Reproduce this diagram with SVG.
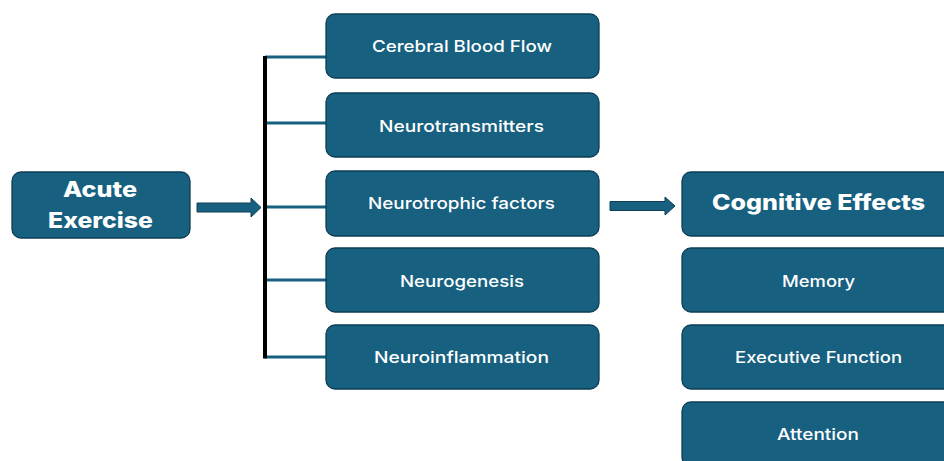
<svg xmlns="http://www.w3.org/2000/svg" width="944" height="461" viewBox="0 0 944 461">
<style>
.box{fill:#17607F;stroke:#0E3E55;stroke-width:1.3}
.t{fill:#fff;font-family:Inter,"Open Sans","Liberation Sans",sans-serif;font-weight:500;font-size:16.5px;text-anchor:middle}
.tb{fill:#fff;font-family:Inter,"Open Sans","Liberation Sans",sans-serif;font-weight:800;font-size:21px;text-anchor:middle}
.link{stroke:#17607F;stroke-width:3;fill:none}
.arrow{fill:#17607F;stroke:#0E3E55;stroke-width:1}
</style>
<rect width="944" height="461" fill="#fff"/>
<g id="connectors">
<line class="link" x1="265" y1="57" x2="327" y2="57"/>
<line class="link" x1="265" y1="123" x2="327" y2="123"/>
<line class="link" x1="265" y1="207" x2="327" y2="207"/>
<line class="link" x1="265" y1="280" x2="327" y2="280"/>
<line class="link" x1="265" y1="357" x2="327" y2="357"/>
<line x1="265" y1="56" x2="265" y2="358.5" stroke="#000" stroke-width="4"/>
<path class="arrow" d="M197 203 H251 V198 L261 207.5 L251 217 V212 H197 Z"/>
<path class="arrow" d="M610 201.5 H665 V197 L675 206 L665 215 V210.5 H610 Z"/>
</g>
<g id="acute-exercise">
<rect class="box" x="12" y="172" width="178" height="66" rx="9"/>
<text class="tb" x="100" y="197" textLength="74" lengthAdjust="spacingAndGlyphs">Acute</text>
<text class="tb" x="100.5" y="228" textLength="105" lengthAdjust="spacingAndGlyphs">Exercise</text>
</g>
<g id="cerebral-blood-flow">
<rect class="box" x="326" y="14" width="273" height="64" rx="9"/>
<text class="t" x="462" y="52" textLength="180" lengthAdjust="spacingAndGlyphs">Cerebral Blood Flow</text>
</g>
<g id="neurotransmitters">
<rect class="box" x="326" y="93" width="273" height="64" rx="9"/>
<text class="t" x="461.5" y="131.5" textLength="165" lengthAdjust="spacingAndGlyphs">Neurotransmitters</text>
</g>
<g id="neurotrophic-factors">
<rect class="box" x="326" y="171" width="273" height="65" rx="9"/>
<text class="t" x="461.5" y="209" textLength="187" lengthAdjust="spacingAndGlyphs">Neurotrophic factors</text>
</g>
<g id="neurogenesis">
<rect class="box" x="326" y="248" width="273" height="64" rx="9"/>
<text class="t" x="462" y="287" textLength="124" lengthAdjust="spacingAndGlyphs">Neurogenesis</text>
</g>
<g id="neuroinflammation">
<rect class="box" x="326" y="325" width="273" height="64" rx="9"/>
<text class="t" x="461.5" y="363" textLength="175" lengthAdjust="spacingAndGlyphs">Neuroinflammation</text>
</g>
<g id="cognitive-effects">
<rect class="box" x="682" y="172" width="273" height="64" rx="9"/>
<text class="tb" x="818.5" y="210" textLength="213" lengthAdjust="spacingAndGlyphs">Cognitive Effects</text>
</g>
<g id="memory">
<rect class="box" x="682" y="248" width="273" height="64" rx="9"/>
<text class="t" x="818.5" y="287" textLength="73" lengthAdjust="spacingAndGlyphs">Memory</text>
</g>
<g id="executive-function">
<rect class="box" x="682" y="325" width="273" height="64" rx="9"/>
<text class="t" x="818.5" y="363" textLength="167" lengthAdjust="spacingAndGlyphs">Executive Function</text>
</g>
<g id="attention">
<rect class="box" x="682" y="402" width="273" height="64" rx="9"/>
<text class="t" x="818" y="440" textLength="82" lengthAdjust="spacingAndGlyphs">Attention</text>
</g>
</svg>
